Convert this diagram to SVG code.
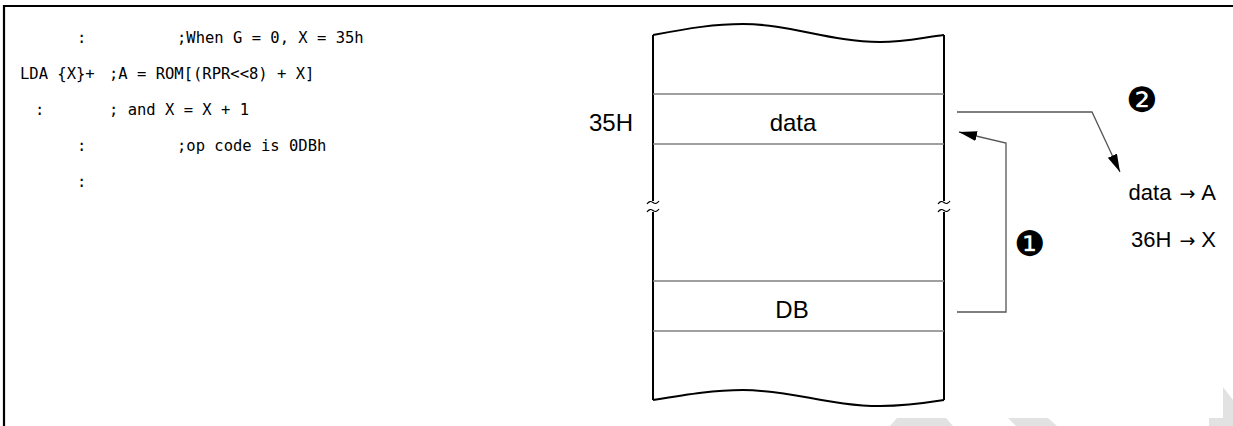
<svg xmlns="http://www.w3.org/2000/svg" width="1233" height="426" viewBox="0 0 1233 426">
<style>
.code{font-family:"DejaVu Sans Mono","Liberation Mono",monospace;font-size:15.5px;fill:#000}
.lbl{font-family:"Liberation Sans",Arial,sans-serif;font-size:24px;fill:#000}
.res{font-family:"Liberation Sans",Arial,sans-serif;font-size:22px;fill:#000}
.arr{font-family:"DejaVu Sans",sans-serif;font-size:19px}
.side{fill:none;stroke:#000;stroke-width:2}
.row{fill:none;stroke:#808080;stroke-width:1.3}
.conn{fill:none;stroke:#555;stroke-width:1.3}
.num{font-family:"DejaVu Sans",sans-serif;font-size:35px;fill:#000}
.wm{fill:#e2e2e2}
</style>
<defs>
<marker id="ah" viewBox="0 0 18 10" refX="18" refY="5" markerWidth="18" markerHeight="10" markerUnits="userSpaceOnUse" orient="auto">
<path d="M0,0 L18,5 L0,10 z" fill="#000"/>
</marker>
</defs>
<rect width="1233" height="426" fill="#fff"/>
<path d="M4,426 V6 H1233" fill="none" stroke="#000" stroke-width="2.2"/>
<g id="code">
<text class="code" x="77" y="43">:</text>
<text class="code" x="177" y="43">;When G = 0, X = 35h</text>
<text class="code" x="20" y="79" xml:space="preserve">LDA {X}+</text>
<text class="code" x="109" y="79">;A = ROM[(RPR&lt;&lt;8) + X]</text>
<text class="code" x="35" y="115">:</text>
<text class="code" x="109" y="115" xml:space="preserve">; and X = X + 1</text>
<text class="code" x="77" y="151">:</text>
<text class="code" x="177" y="151">;op code is 0DBh</text>
<text class="code" x="77" y="187">:</text>
</g>
<g id="memory">
<path class="side" d="M653,35 C690,28 715,24 743,24 C790,24 830,42 880,42 C905,42 925,37 944,35"/>
<path class="side" d="M653,400 C690,394 715,390 743,390 C790,390 830,406 880,406 C905,406 925,403 944,400"/>
<path class="side" d="M653,35 V201 M653,212 V400"/>
<path class="side" d="M944,35 V201 M944,212 V400"/>
<path d="M647,204 c2,-3 4,-3 6,-1.5 s4,1.5 6,-1.5 M647,212 c2,-3 4,-3 6,-1.5 s4,1.5 6,-1.5" fill="none" stroke="#000" stroke-width="1.2"/>
<path d="M938,204 c2,-3 4,-3 6,-1.5 s4,1.5 6,-1.5 M938,212 c2,-3 4,-3 6,-1.5 s4,1.5 6,-1.5" fill="none" stroke="#000" stroke-width="1.2"/>
</g>
<g id="row-data">
<path class="row" d="M653,94 H944 M653,144 H944"/>
<text class="lbl" x="793" y="131" text-anchor="middle">data</text>
<text class="lbl" x="589" y="131">35H</text>
</g>
<g id="row-db">
<path class="row" d="M653,281 H944 M653,331 H944"/>
<text class="lbl" x="792" y="318" text-anchor="middle">DB</text>
</g>
<g id="connectors">
<path class="conn" d="M957,112 H1092 L1120,172" marker-end="url(#ah)"/>
<path class="conn" d="M957,312 H1006 V143 L959,132" marker-end="url(#ah)"/>
</g>
<g id="step1"><text class="num" x="1030" y="256" text-anchor="middle">❶</text></g>
<g id="step2"><text class="num" x="1142" y="112" text-anchor="middle">❷</text></g>
<g id="results">
<text class="res" x="1216" y="200" text-anchor="end">data<tspan class="arr" dx="8">→</tspan><tspan dx="6">A</tspan></text>
<text class="res" x="1216" y="247" text-anchor="end">36H<tspan class="arr" dx="8">→</tspan><tspan dx="6">X</tspan></text>
</g>
<g id="watermark">
<polygon class="wm" points="890,426 897,418 946,418 953,426"/>
<polygon class="wm" points="1008,418 1048,418 1057,426 1016,426"/>
<polygon class="wm" points="1223,387 1233,400 1233,426 1209,426 1209,418 1223,418"/>
</g>
</svg>
